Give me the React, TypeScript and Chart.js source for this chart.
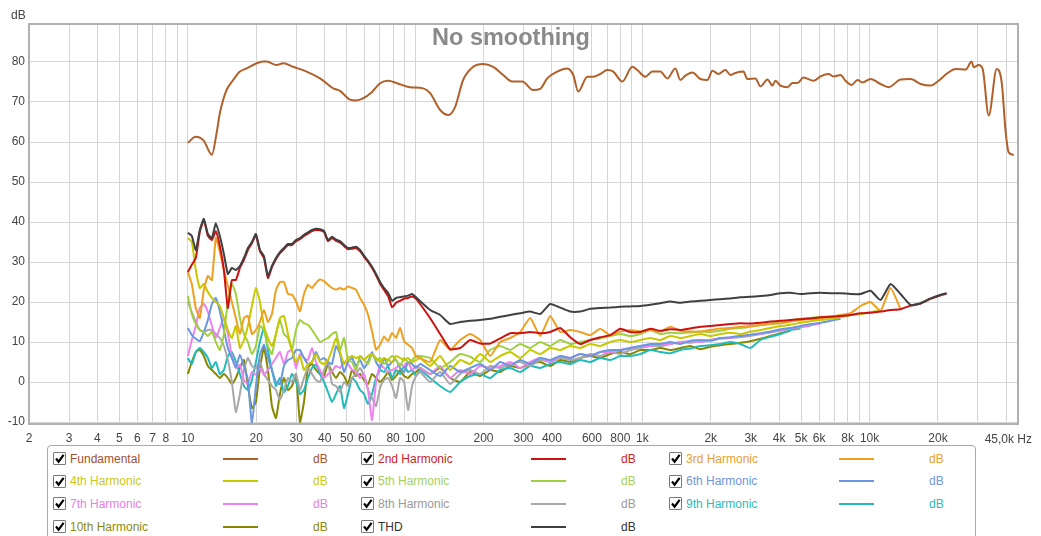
import React, { useEffect, useRef } from 'react';
import { Chart, registerables } from 'chart.js';

Chart.register(...registerables);

const FONT = '"Liberation Sans", Arial, Helvetica, sans-serif';

// ---------- axes ----------
const xGridFreqs = [2, 3, 4, 5, 6, 7, 8, 9, 10, 20, 30, 40, 50, 60, 70, 80, 90, 100, 200, 300, 400, 500, 600, 700, 800, 900,
  1000, 2000, 3000, 4000, 5000, 6000, 7000, 8000, 9000, 10000, 20000, 30000, 40000];
const xTickLabels = ['2', '3', '4', '5', '6', '7', '8', '', '10', '20', '30', '40', '50', '60', '', '80', '', '100', '200', '300', '400', '', '600', '', '800', '',
  '1k', '2k', '3k', '4k', '5k', '6k', '', '8k', '', '10k', '20k', '', ''];
const yTickValues = [-10, 0, 10, 20, 30, 40, 50, 60, 70, 80];

// ---------- fundamental ----------
const fundFreq = [10, 10.84, 11.76, 12.76, 13.38, 13.83, 14.3, 14.81, 15.83, 16.95, 18.14, 20.08, 21.46, 22.23, 24.59, 26.29, 29.1, 33.33, 38.15, 43.65,
  46.73, 51.73, 54.96, 59.0, 64.65, 70.14, 76.03, 83.33, 95.06, 108.5, 116.5, 128.9, 139.8, 150.1, 162.7, 180.2, 199.4, 220.7, 244.2, 267.6,
  296.1, 331.1, 355.3, 381.5, 422.2, 467.3, 496.6, 522.4, 572.5, 608.4, 653.2, 701.3, 745.3, 816.5, 903.7, 950.7, 1031, 1107, 1200, 1289,
  1398, 1470, 1547, 1661, 1801, 1933, 2034, 2162, 2321, 2442, 2569, 2786, 2901, 3146, 3310, 3554, 3738, 3853, 4054, 4353,
  4579, 4818, 5121, 5667, 6084, 6597, 6940, 7452, 7841, 8332, 8852, 9316, 10102, 11183, 12125, 13694, 15155, 16775, 18566, 20137,
  22060, 23920, 26480, 28140, 28720, 30210, 31460, 33440, 36270, 38150, 39730, 40960, 43090];
const fundDb = [59.8, 61.3, 60.3, 56.8, 62.2, 67.2, 70.5, 73, 75.5, 77.6, 78.4, 79.7, 80.1, 80.1, 79.25, 79.7, 78.8, 77.6, 75.9, 73.4,
  72.8, 70.6, 70.4, 70.9, 72.5, 74.7, 75.3, 74.7, 73.7, 73.4, 72.2, 68, 66.75, 68.8, 75.5, 78.8, 79.5, 78.8, 76.75, 75.1,
  75.1, 73, 73.3, 75.9, 77.6, 78.4, 76.75, 72.6, 76.3, 76.3, 77, 78, 77.6, 75.1, 78.8, 78, 76.3, 77.6, 77.6, 75.9,
  78.4, 75.5, 76.6, 77.4, 75.75, 75.5, 77.8, 77, 78, 76.75, 77.25, 77.6, 75.75, 75.9, 73.9, 75.6, 74.1, 75.3, 74.1, 73.7,
  74.75, 74.75, 76.1, 75.3, 76.4, 77, 76.4, 76.75, 75.3, 74.25, 75.5, 74.9, 75.75, 74.5, 73.7, 75.6, 75.75, 74.5, 74.1, 75.3,
  77.25, 78.25, 78.1, 80.1, 78.7, 79.25, 78.25, 66.6, 78.25, 74.9, 62.4, 57.4, 56.75];

// ---------- harmonics (shared frequency list) ----------
const harmFreq = [10, 10.41, 10.84, 11.29, 11.76, 12.25, 12.76, 13.28, 13.83, 14.41, 15.0, 15.62, 16.27, 16.95, 17.65, 18.38, 19.14, 19.93, 20.76, 21.62,
  22.51, 23.45, 24.42, 25.43, 26.48, 27.58, 28.72, 29.91, 31.15, 32.44, 33.78, 35.18, 36.64, 38.15, 39.73, 41.38, 43.09, 44.88, 46.73, 48.67,
  50.69, 52.79, 54.97, 57.25, 59.62, 62.09, 64.66, 67.34, 70.13, 73.03, 76.06, 79.21, 82.49, 85.9, 89.46, 93.16, 97.0, 101.0, 105.2,
  116.4, 128.9, 142.6, 157.9, 174.7, 193.4, 214.0, 236.9, 262.1, 290.1, 321.0, 355.3, 393.2, 435.1, 481.6, 533.0, 589.8, 652.8, 722.4, 799.5,
  884.8, 979.9, 1084, 1200, 1328, 1470, 1627, 1801, 1993, 2206, 2441, 2702, 2990, 3309, 3663, 4054, 4486, 4965, 5495, 6082,
  6731, 7449, 8245, 9125, 10100, 11180, 12370, 13690, 15160, 16770, 18560, 20550, 21840];

const thdDb = [37.3, 36.5, 33, 38, 40.8, 37, 36, 39.7, 36.5, 32, 27, 28.5, 28, 29, 31, 33.5, 35, 37, 33, 31.5,
  26.5, 29, 31, 32.5, 33.5, 34.5, 34.5, 35.5, 36, 36.8, 37.4, 38, 38.3, 38.2, 37.8, 35.5, 36.3, 35.6, 35.2, 34.3,
  33.5, 33.6, 33.8, 33, 31.6, 30.3, 28.8, 27, 25, 23.5, 22.3, 20.3, 21, 21.2, 21.4, 21.6, 22, 21.2, 20.2,
  18.0, 16.75, 14.5, 15.0, 15.3, 15.5, 15.8, 16.3, 16.75, 17.2, 17.6, 17.0, 19.5, 18.6, 17.6, 17.6, 18.3, 18.5, 18.6, 18.8,
  18.9, 19.0, 19.3, 19.7, 20.1, 19.8, 20.1, 20.3, 20.5, 20.7, 20.9, 21.2, 21.3, 21.5, 21.75, 22.2, 22.3, 22.0, 22.2, 22.3,
  22.2, 22.2, 22.0, 22.0, 22.8, 20.5, 24.5, 22.0, 19.25, 19.7, 20.9, 21.8, 22.2];

const h2Db = [27.5, 29.3, 31, 37.5, 40.5, 36.5, 35.5, 37.7, 34, 28, 18.5, 25.5, 25.5, 28.5, 30.5, 33, 34.7, 36.7, 32.7, 31,
  26, 28.7, 30.7, 32.2, 33.2, 34.2, 34.2, 35.2, 35.7, 36.5, 37.1, 37.7, 38, 37.9, 37.5, 35.2, 36, 35.3, 34.9, 34,
  33.2, 33.3, 33.5, 32.7, 31.3, 30, 28.5, 26.7, 24.6, 23, 21.5, 18.7, 19.8, 20.3, 20.8, 21.0, 21.4, 20.8, 19.5,
  16, 12, 8.2, 8.5, 10.5, 9.6, 9.6, 10.9, 12.2, 12.2, 12.5, 12.2, 12.5, 13.5, 11.2, 9.5, 10.5, 11.2, 11.7, 13.3,
  12.5, 12.5, 13.3, 12.8, 13.2, 13.0, 13.4, 13.8, 14.0, 14.25, 14.5, 14.7, 14.6, 14.8, 15.1, 15.3, 15.5, 15.7, 15.9, 16.2,
  16.3, 16.5, 16.75, 17.2, 17.3, 17.6, 18.0, 18.2, 19.1, 19.6, 20.8, 21.7, 22.1];

const h3Db = [27.5, 24.5, 18.5, 16, 23, 26.5, 25.5, 36, 32.5, 28, 24, 20, 16, 12, 16, 16.5, 12, 13, 15, 18,
  15, 17, 23, 25, 25, 22, 21.8, 20.2, 17.7, 22, 24.3, 23.5, 24.75, 25.6, 25.2, 24.3, 23.5, 23.1, 23.5, 23.1,
  23.9, 23.5, 23.1, 21, 19.3, 16.8, 12.7, 8.1, 9.3, 11.4, 10.2, 12.25, 11, 13.5, 10.2, 9.3, 8.5, 6.4, 6,
  5, 10.5, 8, 10.5, 12, 10.5, 6.5, 10, 11, 12.5, 16, 11.5, 16.5, 12.5, 13, 12.5, 11.7, 13.3, 11.7, 12.6,
  13, 12.6, 13, 12.6, 13.8, 12.8, 12.6, 12.6, 13, 13.4, 13.5, 13.8, 14, 14.25, 14.5, 14.7, 15.1, 15.5, 15.7, 15.9,
  16.3, 16.75, 17.2, 19.0, 20.0, 17.8, 23.5, 18.2, null, null, null, null, null];

const h4Db = [36, 35, 28, 23.5, 24.5, 22.5, 21, 20, 19, 16, 13, 11, 14, 8.5, 10.5, 14, 19, 23.5, 20, 14,
  11, 9, 12, 16, 16.5, 12, 8, 5, 6.5, 3, 4.5, 5, 7, 5, 4.5, 5.5, 8, 11, 7.5, 4.5,
  6, 6.5, 6, 6.4, 5.5, 6.5, 7, 6, 5, 6, 5.5, 5, 6.5, 6, 5.5, 6, 5, 5.5, 6,
  4, 6.5, 3, 5.5, 4.5, 7, 5, 6.5, 7.5, 6, 8, 7, 8.5, 8, 9, 8.5, 9.5, 9, 10, 10.5,
  10, 10.5, 11, 10.5, 11.5, 11, 11.5, 12, 11.5, 12, 12.3, 12, 12.6, 13, 13.5, 14, 14.3, 14.8, 15.2, 15.5,
  15.8, 16.2, 16.75, 17, 17.5, 17.8, null, null, null, null, null, null, null];

const h5Db = [21.5, 17, 14.5, 13, 12.5, 11.5, 12.5, 10, 8, 12, 20, 24.5, 22, 16, 12, 10, 7, 9, 14, 13,
  9, 7, 12, 15.5, 12, 11, 8, 13, 15.5, 14.7, 14.3, 13, 11.5, 10, 10.5, 11, 12, 12.5, 8, 11,
  5.5, 5, 3, 6.5, 5.5, 4.5, 7, 5.5, 6, 4.5, 5.5, 6.5, 5.5, 4, 6, 5, 5.5, 6.5, 6.5,
  6, 3.5, 5, 7, 6.3, 5, 8, 9, 8, 9.5, 8.5, 10, 9, 10.5, 9.5, 10, 10.5, 10.9, 11.5, 12,
  11.5, 12, 13, 12, 12.3, 12.2, 12.4, 12.6, 12.5, 12.8, 13.3, 13.5, 13.8, 14.2, 14.6, 15.1, 15.4, 15.8, 16, 16.3,
  16.4, 16.6, 16.8, null, null, null, null, null, null, null, null, null];

const h6Db = [13.5, 11.8, 10.8, 10.2, 12.5, 15.5, 19.5, 21, 17.7, 13, 8.5, 6, 3.7, 6.8, 4, 0.5, -10.5, -1, 6.8, 9.3,
  6, 3, 0, -0.5, 4, 5.5, 6, 8, 8, 6, 4.5, 5, 7.5, 5.5, 6, 5, 4.5, 9, 7, 2.5,
  5, 6, 4, 5.5, 3.5, 5, 7.5, 5, 3.5, 6, 4, 5, 5.5, 3.5, 2.5, 5, 4.5, 3.5, 4.5,
  3, 1.5, 4, 2.5, 3.5, 4.5, 3, 5, 4, 5.5, 4.5, 6, 5.5, 6.5, 6, 7, 6.5, 7.5, 8, 8,
  8.5, 9, 9.5, 9.5, 10, 9.5, 10.3, 10.5, 10.3, 11, 11.2, 11.5, 11.8, 12.2, 12.6, 13.2, 13.5, 14, 14.5, 14.8,
  15.3, 15.8, null, null, null, null, null, null, null, null, null, null, null];

const h7Db = [6.5, 10.5, 14, 18.5, 19.5, 17.5, 14, 11, 13.5, 16, 12, 6.5, 3.5, 4.3, 0.5, -0.5, 2.5, 1.8, 3.5, 1.8,
  3, 4.5, 6, 7.5, 4.5, 7.5, 8, 3.5, 7, 6, 5.5, 8.5, 5, 3, 1, 2, 2.7, 4, 3.5, 5,
  4.5, 3, 2.7, 1, 2, -2, -9.5, 0, 4.3, 3.5, 2.5, 3, 3.5, 4.5, 4, 5, 3, 4, 3.5,
  2, 4, 1, 3, 2, 4, 3.5, 4, 5, 3.5, 5, 6, 5, 6.5, 6, 7, 6.5, 7.5, 7.5, 8,
  8.5, 9, 9, 9.5, 9.5, 10, 10.2, 10, 10.5, 11, 11, 11.5, 11.8, 12, 12.5, 13, 13.4, 13.8, 14.2, 14.6,
  null, null, null, null, null, null, null, null, null, null, null, null, null];

const h8Db = [20, 17.5, 15, 13, 12.5, 13, 13, 12, 11, 9, 5.5, 0, -7.5, -3, 3, 6, 4, 3.5, 5, 2,
  0.5, -1, -2, -4.5, -2, 1, 0, 2, -2, 1, 3.5, 2, 0.5, 0, 3, 5, -0.5, -1, -2.5, 0,
  -1, 1, 2, 3.5, 1.5, -2, -4, -6, -1.5, 0.5, 1, -1, -4, 1, 0, -7, -1, 1.5, 2.5,
  0, 2.5, -0.5, 2, 3, 2, 4, 3.5, 4.5, 5, 4, 5.5, 5, 6, 5.5, 6, 7, 6.5, 7.5, 7,
  8, 8.5, 9, 9, 9.5, 10, 9.8, 10.2, 10.5, 10.8, 11, 11.2, 11.5, 12, 12.4, 12.8, 13.3, 13.7, 14, null,
  null, null, null, null, null, null, null, null, null, null, null, null, null];

const h9Db = [6, 4.5, 7.5, 8.5, 7.5, 6, 3.5, 5, 2, 3, 6.5, 7.5, 5, 2, -1, -2, 0.5, 5, 10, 13.5,
  8, 3, -1, 1, -2.5, -1, 2, 0, -3, -2, 1, 3.5, 4.3, 2, 0, -2.5, -5, -3, -1, -6.5,
  -3, 1, 0, -2, -3, -5.5, -3, 1, 3, 2.5, 4, 1, 3, 2, 4, 2.5, 3, 1.5, 3,
  1, -1, -2.5, 0, 1.5, 2, 1, 3, 3.5, 2.5, 4, 3.5, 4.5, 5, 4.5, 5.5, 5, 6, 5.5, 6.5,
  6.5, 7, 8, 7.5, 7.2, 8, 8.4, 9, 9.2, 9.5, 10, 9.5, 8.5, 10.5, 11.3, 12, 13, 13.4, null, null,
  null, null, null, null, null, null, null, null, null, null, null, null, null];

const h10Db = [2, 5, 7.5, 8, 6.5, 4, 3, 2, 1, 2, 1, -0.5, 1, 3.5, 5.5, -1, -6.5, -5, 3.5, 8.5,
  3, -6, -9, -3, 1, -2, -1, 2, -10, -5, 3.5, 4.5, 3, 2, 1.5, 4.5, 2.5, 1, 2.5, 1.5,
  -0.5, 3, 1.5, 2, 0.5, -0.5, 2, 1, 0, 1, 2.5, 0.5, 1.5, 3, 1.5, 1, 2, 2.5, 3.5,
  2, 3.5, 1, 0, 2.5, 1.5, 3, 2.5, 4, 3.5, 4.5, 5, 4, 5.5, 5, 6, 6.5, 6, 7, 7.5,
  7, 8, 8, 8.5, 8, 8.5, 9, 8.2, 8.8, 9.2, 9.5, 9.8, 10.2, 10.8, 11.5, 12.2, 12.8, null, null, null,
  null, null, null, null, null, null, null, null, null, null, null, null, null];

// ---------- series meta ----------
const seriesNames = ['Fundamental', '2nd Harmonic', '3rd Harmonic', '4th Harmonic', '5th Harmonic', '6th Harmonic',
  '7th Harmonic', '8th Harmonic', '9th Harmonic', '10th Harmonic', 'THD'];
const seriesColors = ['#b0602a', '#cc1111', '#eea020', '#c8c800', '#a0d040', '#6a98e0',
  '#ee82ee', '#a8a8a8', '#22bbbb', '#888800', '#404040'];
const legendTextColors = ['#a0522d', '#cc1f1f', '#e8a030', '#c8c820', '#a6d060', '#7096dc',
  '#e880e8', '#9a9a9a', '#2cbcbc', '#8a8a10', '#333333'];
const seriesValues = [fundDb, h2Db, h3Db, h4Db, h5Db, h6Db, h7Db, h8Db, h9Db, h10Db, thdDb];
const seriesOrder = [1, 2, 3, 4, 5, 6, 7, 8, 9, 10, 0];

const decorPlugin = {
  id: 'decor',
  afterDraw(chart: any) {
    const { ctx, chartArea: a } = chart;
    const xs = chart.scales.x;
    ctx.save();
    ctx.strokeStyle = '#b0b0b0';
    ctx.lineWidth = 2;
    ctx.strokeRect(a.left, a.top, a.right - a.left, a.bottom - a.top);
    ctx.fillStyle = '#8a8a8a';
    ctx.font = `bold 23.5px ${FONT}`;
    ctx.textAlign = 'center';
    ctx.textBaseline = 'alphabetic';
    ctx.fillText('No smoothing', 511, 45);
    ctx.font = `12px ${FONT}`;
    ctx.fillStyle = '#444444';
    ctx.textAlign = 'left';
    ctx.fillText('dB', 11, 19);
    ctx.textAlign = 'right';
    ctx.fillText('45,0k Hz', xs.getPixelForValue(45000) + 14, a.bottom + 18.5);
    ctx.restore();
  },
};

function Legend() {
  return (
    <div style={{ position: 'absolute', left: 47, top: 445, width: 929, height: 110, border: '1px solid #a9a9a9', borderRadius: 4, boxSizing: 'border-box', background: '#fff' }}>
      {seriesNames.map((name, k) => {
        const r = Math.floor(k / 3);
        const c = k % 3;
        const col = legendTextColors[k];
        return (
          <div key={name} style={{ position: 'absolute', left: c * 308, top: 1.5 + r * 22.7, width: 300, height: 22 }}>
            <span style={{ position: 'absolute', left: 5, top: 4.5, width: 13, height: 13, border: '1px solid #7a7a7a', boxSizing: 'border-box', background: '#fff', borderRadius: 1 }}>
              <svg width="11" height="11" style={{ position: 'absolute', left: 0, top: 0 }}>
                <path d="M2 5.5 L4.6 8.6 L9.6 1.8" stroke="#000" strokeWidth="2.2" fill="none" />
              </svg>
            </span>
            <span style={{ position: 'absolute', left: 22, top: 0, lineHeight: '22px', fontSize: 12, color: col, whiteSpace: 'nowrap' }}>{name}</span>
            <span style={{ position: 'absolute', left: 175, top: 10, width: 35, height: 2, background: seriesColors[k] }} />
            <span style={{ position: 'absolute', left: 265, top: 0, lineHeight: '22px', fontSize: 12, color: col }}>dB</span>
          </div>
        );
      })}
    </div>
  );
}

export default function App() {
  const canvasRef = useRef<HTMLCanvasElement | null>(null);

  useEffect(() => {
    const datasets = seriesNames.map((name, k) => {
      const freqs = k === 0 ? fundFreq : harmFreq;
      const vals = seriesValues[k];
      return {
        label: name,
        data: freqs.map((f, i) => ({ x: f, y: vals[i] === undefined ? null : vals[i] })),
        borderColor: seriesColors[k],
        backgroundColor: seriesColors[k],
        borderWidth: 2,
        pointRadius: 0,
        fill: false,
        spanGaps: false,
        borderJoinStyle: 'round',
        cubicInterpolationMode: k === 0 ? 'monotone' : 'default',
        tension: k === 0 ? 0.4 : 0.15,
        order: seriesOrder[k],
      };
    });

    const chart = new Chart(canvasRef.current as HTMLCanvasElement, {
      type: 'line',
      data: { datasets } as any,
      options: {
        animation: false,
        responsive: false,
        devicePixelRatio: 1,
        events: [],
        layout: { padding: { top: 24, right: 23, left: 0, bottom: 0 } },
        plugins: { legend: { display: false }, tooltip: { enabled: false }, title: { display: false } },
        scales: {
          x: {
            type: 'logarithmic',
            min: 2,
            max: 45000,
            afterBuildTicks: (s: any) => { s.ticks = xGridFreqs.map((v) => ({ value: v })); },
            afterFit: (s: any) => { s.height = 22; },
            grid: { color: '#d5d5d5', lineWidth: 1, drawTicks: false },
            border: { display: false },
            ticks: {
              autoSkip: false, maxRotation: 0, minRotation: 0, padding: 7, color: '#444444',
              font: { family: FONT, size: 12 },
              callback: (_v: any, i: number) => xTickLabels[i],
            },
          },
          y: {
            type: 'linear',
            min: -10.5,
            max: 89.5,
            afterBuildTicks: (s: any) => { s.ticks = yTickValues.map((v) => ({ value: v })); },
            afterFit: (s: any) => { s.width = 29; },
            grid: { color: '#d5d5d5', lineWidth: 1, drawTicks: false },
            border: { display: false },
            ticks: {
              padding: 4, color: '#444444', font: { family: FONT, size: 12 },
              callback: (v: any) => String(v),
            },
          },
        },
      } as any,
      plugins: [decorPlugin],
    });
    return () => chart.destroy();
  }, []);

  return (
    <div style={{ position: 'relative', width: 1041, height: 536, overflow: 'hidden', background: '#fff', fontFamily: FONT }}>
      <style>{'html,body{margin:0;padding:0;overflow:hidden;background:#fff;}'}</style>
      <canvas ref={canvasRef} width={1041} height={446} style={{ position: 'absolute', left: 0, top: 0, width: 1041, height: 446 }} />
      <Legend />
    </div>
  );
}
